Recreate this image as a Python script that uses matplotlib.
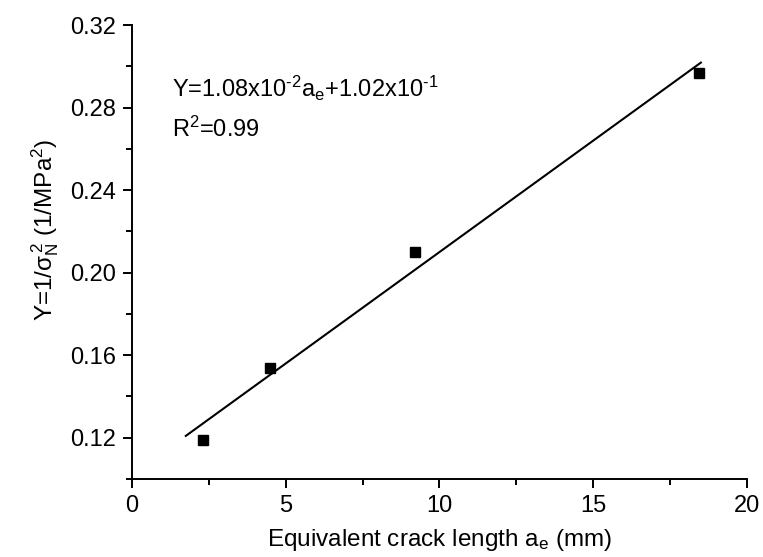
import numpy as np
import matplotlib
matplotlib.use("Agg")
import matplotlib.pyplot as plt
from matplotlib.ticker import MultipleLocator

plt.rcParams['font.family'] = ['Liberation Sans', 'DejaVu Sans']
plt.rcParams['mathtext.fontset'] = 'custom'
plt.rcParams['mathtext.rm'] = 'Liberation Sans'
plt.rcParams['mathtext.it'] = 'Liberation Sans'
plt.rcParams['mathtext.default'] = 'regular'

# equivalent crack length (mm) and Y = 1/sigma_N^2
crack_len = [2.3, 4.5, 9.2, 18.45]
y_vals = [0.119, 0.154, 0.210, 0.297]

# linear fit coefficients
slope = 1.08e-2
intercept = 1.02e-1
fit_range = [1.75, 18.5]

fig = plt.figure(figsize=(7.63, 5.57), dpi=100)
ax = fig.add_axes([0.173, 0.140, 0.806, 0.815])

xf = np.array(fit_range)
ax.plot(xf, slope * xf + intercept, color='black', lw=1.5)
ax.plot(crack_len, y_vals, 's', color='black', ms=7)

ax.set_xlim(0, 20)
ax.set_ylim(0.10, 0.32)
ax.xaxis.set_major_locator(MultipleLocator(5))
ax.xaxis.set_minor_locator(MultipleLocator(2.5))
ax.yaxis.set_minor_locator(MultipleLocator(0.02))
ax.set_yticks([0.12, 0.16, 0.20, 0.24, 0.28, 0.32])
ax.set_yticklabels(['0.12', '0.16', '0.20', '0.24', '0.28', '0.32'])

for s in ['top', 'right']:
    ax.spines[s].set_visible(False)
for s in ['left', 'bottom']:
    ax.spines[s].set_linewidth(1.4)
ax.tick_params(which='major', length=6.5, width=1.4, labelsize=17, pad=5)
ax.tick_params(which='minor', length=4, width=1.4)

ax.set_xlabel('Equivalent crack length a$_e$ (mm)', fontsize=17.5, labelpad=7)
ax.set_ylabel('Y=1/$\\sigma_N^{\\,2}$ (1/MPa$^2$)', fontsize=17.5)
ax.yaxis.set_label_coords(-0.115, 0.55)

ax.text(1.3, 0.2895, 'Y=1.08x10$^{\\text{-}2}$a$_e$+1.02x10$^{\\text{-}1}$', fontsize=17, va='center')
ax.text(1.3, 0.2695, 'R$^2$=0.99', fontsize=17, va='center')

fig.savefig('out.png', dpi=100)
